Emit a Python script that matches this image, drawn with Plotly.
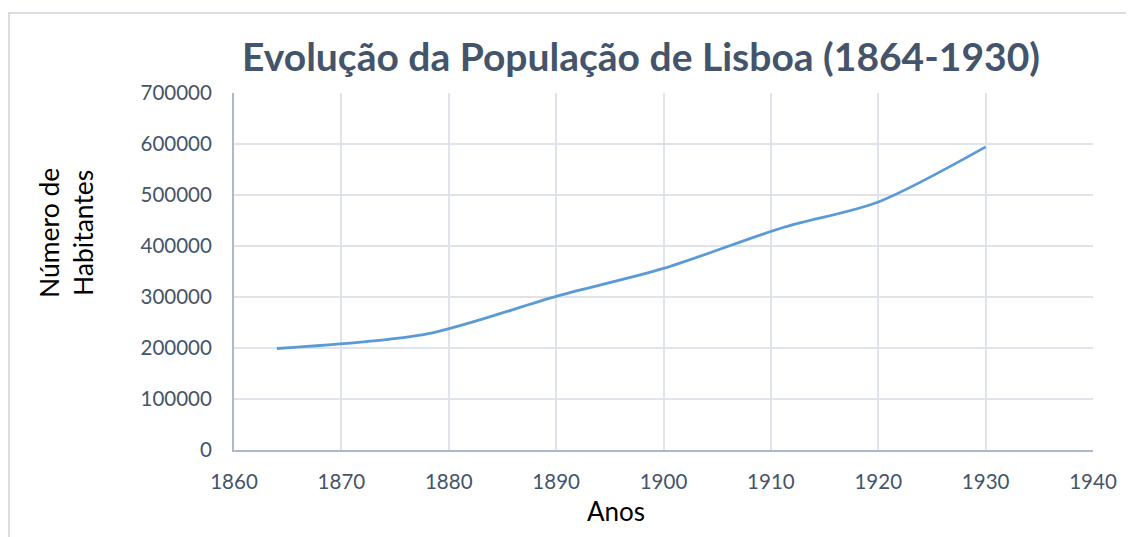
import plotly.graph_objects as go

years = [1864, 1878, 1890, 1900, 1911, 1920, 1930]
population = [199000, 227674, 301206, 356009, 435359, 486372, 594390]

title_text = "Evolução da População de Lisboa (1864-1930)"
x_title = "Anos"
y_title = "Número de<br>Habitantes"

OFF = 8  # default page body margin
W, H = 1134 - OFF, 537 - OFF
L, R, T, B = 234 - OFF, 1093 - OFF, 93 - OFF, 450 - OFF
pw, ph = R - L, B - T

def px(x):
    return (x - OFF - L) / pw

def py(y):
    return (B - (y - OFF)) / ph

fig = go.Figure()
fig.add_trace(go.Scatter(
    x=years, y=population, mode="lines",
    line=dict(color="#5B9BD5", width=2.8, shape="spline", smoothing=0.8),
    hoverinfo="x+y", showlegend=False,
))

tick_font = dict(family="Lato, Carlito, sans-serif", size=20.5, color="#44546A")
fig.update_layout(
    width=W, height=H,
    margin=dict(l=L, r=W - R, t=T, b=H - B),
    paper_bgcolor="white", plot_bgcolor="white",
    title=dict(text="<b>" + title_text + "</b>", xref="container", yref="container",
               x=(641 - OFF) / W, y=1 - (57 - OFF) / H, xanchor="center", yanchor="middle",
               font=dict(family="Lato, sans-serif", size=39, color="#44546A")),
    xaxis=dict(range=[1860, 1940], dtick=10, tick0=1860, showgrid=True,
               gridcolor="#DFE3EA", gridwidth=1.5, showline=True, linecolor="#ADB9CA",
               linewidth=2, zeroline=False, ticks="", tickfont=tick_font,
               ticklabelstandoff=12),
    yaxis=dict(range=[0, 700000], dtick=100000, showgrid=True, tickformat="d",
               gridcolor="#DFE3EA", gridwidth=1.5, showline=True, linecolor="#ADB9CA",
               linewidth=2, zeroline=False, ticks="", tickfont=tick_font,
               ticklabelstandoff=16),
    annotations=[
        dict(text=x_title, xref="paper", yref="paper", x=px(616), y=py(511),
             xanchor="center", yanchor="middle", showarrow=False,
             font=dict(family="Lato, sans-serif", size=26, color="black")),
        dict(text=y_title, xref="paper", yref="paper", x=px(66), y=py(233),
             xanchor="center", yanchor="middle", showarrow=False, textangle=-90,
             font=dict(family="Lato, sans-serif", size=26.5, color="black")),
    ],
    shapes=[
        dict(type="rect", xref="paper", yref="paper",
             x0=px(9), x1=px(1160), y0=py(560), y1=py(13),
             line=dict(color="#D9DEE5", width=2), layer="below"),
    ],
)

fig.write_html("out.html")
